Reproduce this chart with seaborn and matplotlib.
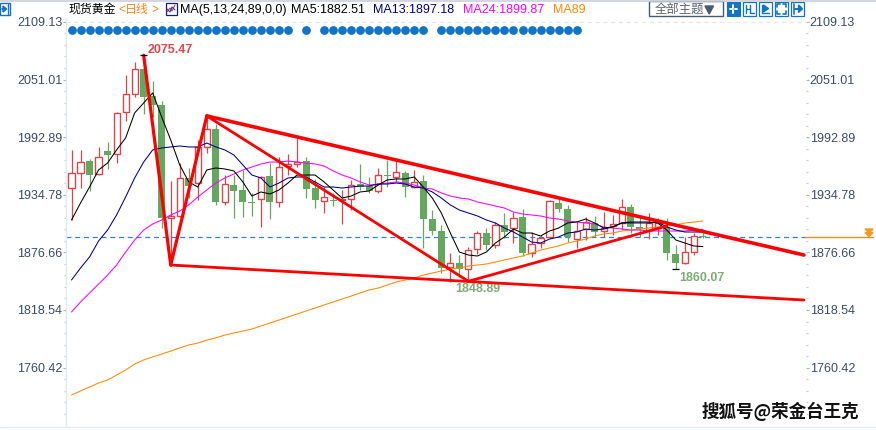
import pandas as pd
import seaborn as sns
import matplotlib
matplotlib.use('Agg')
import matplotlib.pyplot as plt
from matplotlib.patches import Rectangle, Polygon
from matplotlib.lines import Line2D

# candles
opens = [1941.6, 1956.7, 1968.8, 1955.7, 1978.9, 1975.9, 2018.3, 2036.5, 2061.7, 2034.4, 2025.4, 1911.3,
         1913.4, 1951.7, 1946.6, 1983.0, 2001.1, 1927.5, 1944.6, 1939.6, 1927.5, 1930.5, 1953.7, 1927.5,
         1963.8, 1965.8, 1968.8, 1941.6, 1928.5, 1929.5, 1929.5, 1930.5, 1945.6, 1943.6, 1938.6, 1954.7,
         1952.7, 1956.7, 1942.6, 1948.7, 1910.3, 1898.2, 1861.9, 1865.9, 1859.9, 1880.1, 1896.2, 1884.1,
         1904.3, 1901.2, 1912.3, 1876.0, 1886.1, 1892.2, 1926.5, 1920.4, 1890.1, 1900.2, 1906.3, 1898.2,
         1903.3, 1906.3, 1922.4, 1902.3, 1899.2, 1901.2, 1902.3, 1875.0, 1865.9, 1877.0, 1893.2]
closes = [1956.7, 1967.8, 1954.7, 1972.9, 1974.9, 2017.3, 2036.5, 2061.7, 2033.4, 2025.4, 1911.3, 1913.4,
          1951.7, 1943.6, 1983.0, 2001.1, 1927.5, 1945.6, 1938.6, 1927.5, 1926.5, 1952.7, 1927.5, 1962.8,
          1965.8, 1967.8, 1940.6, 1929.5, 1932.5, 1928.5, 1930.5, 1944.6, 1942.6, 1938.6, 1954.7, 1953.7,
          1957.7, 1942.6, 1947.7, 1910.3, 1898.2, 1860.9, 1865.9, 1859.9, 1879.0, 1896.2, 1884.1, 1904.3,
          1897.2, 1911.3, 1876.0, 1885.1, 1891.2, 1928.5, 1920.4, 1892.2, 1898.2, 1907.3, 1897.2, 1901.2,
          1905.3, 1922.4, 1902.3, 1900.2, 1906.3, 1906.3, 1876.0, 1865.9, 1877.0, 1893.2, 1892.2]
highs = [1980.0, 1980.0, 1970.9, 1983.0, 1988.0, 2018.3, 2055.6, 2068.7, 2075.47, 2049.6, 2029.4, 1948.7,
         1966.8, 1961.8, 1990.0, 2013.2, 2006.2, 1954.7, 1954.7, 1959.8, 1936.6, 1953.7, 1966.8, 1972.9,
         1975.9, 1992.0, 1972.9, 1950.7, 1942.6, 1936.6, 1939.6, 1949.7, 1965.8, 1952.7, 1961.8, 1969.9,
         1971.9, 1958.8, 1959.8, 1954.7, 1919.4, 1904.3, 1876.0, 1874.0, 1882.1, 1898.2, 1901.2, 1907.3,
         1916.4, 1917.4, 1920.4, 1897.2, 1894.2, 1929.5, 1931.5, 1924.5, 1907.3, 1912.3, 1913.4, 1917.4,
         1914.4, 1930.5, 1925.5, 1912.3, 1916.4, 1911.3, 1911.3, 1884.1, 1892.2, 1896.2, 1896.2]
lows = [1909.3, 1941.6, 1938.6, 1954.7, 1960.8, 1966.8, 2009.2, 2033.4, 2016.3, 2013.2, 1901.2, 1863.9,
        1912.3, 1931.5, 1929.5, 1976.9, 1924.5, 1924.5, 1911.3, 1912.3, 1913.4, 1902.3, 1910.3, 1922.4,
        1954.7, 1962.8, 1931.5, 1921.4, 1916.4, 1923.4, 1905.3, 1919.4, 1939.6, 1936.6, 1936.6, 1942.6,
        1947.7, 1932.5, 1941.6, 1881.1, 1894.2, 1855.8, 1846.8, 1851.8, 1848.89, 1875.0, 1879.0, 1881.1,
        1891.2, 1886.1, 1873.0, 1872.0, 1881.1, 1891.2, 1917.4, 1887.1, 1881.1, 1889.1, 1892.2, 1892.2,
        1894.2, 1899.2, 1896.2, 1892.2, 1890.1, 1894.2, 1869.0, 1860.07, 1864.9, 1874.0, 1891.2]

# moving averages
ma5 = [1909.3, 1926.5, 1942.6, 1959.8, 1966.8, 1980.0, 1992.1, 2017.3, 2027.4, 2037.5, 2013.2, 1990.0,
       1964.8, 1947.7, 1942.6, 1959.8, 1961.8, 1960.8, 1958.8, 1947.7, 1933.5, 1937.6, 1935.6, 1939.6,
       1946.6, 1954.7, 1954.7, 1954.7, 1947.7, 1939.6, 1931.5, 1933.5, 1937.6, 1938.6, 1944.6, 1949.7,
       1950.7, 1950.7, 1952.7, 1942.6, 1931.5, 1916.4, 1896.2, 1877.0, 1874.0, 1873.0, 1877.0, 1886.1,
       1892.2, 1900.2, 1896.2, 1896.2, 1893.2, 1898.2, 1901.2, 1906.3, 1907.3, 1910.3, 1906.3, 1901.2,
       1902.3, 1906.3, 1907.3, 1907.3, 1907.3, 1906.3, 1899.2, 1889.1, 1886.1, 1883.1, 1882.51]
ma13 = [1848.8, 1860.9, 1872.0, 1888.1, 1899.2, 1914.4, 1932.5, 1951.7, 1967.8, 1980.0, 1982.0, 1983.0,
        1984.0, 1983.0, 1983.0, 1987.0, 1983.0, 1980.0, 1974.9, 1964.8, 1954.7, 1951.7, 1942.6, 1946.6,
        1951.7, 1952.7, 1952.7, 1947.7, 1942.6, 1942.6, 1941.6, 1942.6, 1943.6, 1943.6, 1945.6, 1945.6,
        1946.6, 1945.6, 1942.6, 1941.6, 1937.6, 1931.5, 1924.5, 1919.4, 1916.4, 1913.4, 1909.3, 1906.3,
        1901.2, 1897.2, 1892.2, 1887.1, 1886.1, 1890.1, 1892.2, 1896.2, 1897.2, 1900.2, 1899.2, 1900.2,
        1902.3, 1906.3, 1906.3, 1906.3, 1906.3, 1907.3, 1902.3, 1899.2, 1897.2, 1897.2, 1897.18]
ma24 = [1816.5, 1826.6, 1835.7, 1844.7, 1853.8, 1863.9, 1877.0, 1889.1, 1899.2, 1905.3, 1909.3, 1914.4,
        1918.4, 1924.5, 1932.5, 1939.6, 1946.6, 1951.7, 1955.7, 1959.8, 1962.8, 1965.8, 1967.8, 1967.8,
        1968.8, 1967.8, 1966.8, 1965.8, 1963.8, 1958.8, 1954.7, 1951.7, 1947.7, 1944.6, 1945.6, 1946.6,
        1947.7, 1946.6, 1944.6, 1941.6, 1940.6, 1936.6, 1933.5, 1931.5, 1930.5, 1927.5, 1925.5, 1923.4,
        1921.4, 1917.4, 1915.4, 1914.4, 1913.4, 1911.3, 1910.3, 1908.3, 1907.3, 1906.3, 1905.3, 1902.3,
        1901.2, 1900.2, 1899.2, 1899.2, 1898.2, 1898.2, 1898.2, 1898.2, 1898.2, 1899.2, 1899.87]
ma89 = [1732.7, 1736.8, 1740.8, 1744.9, 1747.9, 1752.9, 1758.0, 1764.0, 1768.1, 1771.1, 1774.1, 1777.1,
        1780.2, 1783.2, 1785.2, 1788.2, 1790.3, 1793.3, 1795.3, 1797.3, 1799.3, 1802.4, 1805.4, 1808.4,
        1811.4, 1814.5, 1817.5, 1820.5, 1823.6, 1826.6, 1829.6, 1832.6, 1835.7, 1838.7, 1840.7, 1843.7,
        1846.8, 1848.8, 1850.8, 1853.8, 1855.8, 1857.9, 1859.9, 1860.9, 1862.9, 1863.9, 1864.9, 1866.9,
        1869.0, 1871.0, 1873.0, 1876.0, 1879.0, 1881.1, 1883.1, 1886.1, 1888.1, 1890.1, 1893.2, 1895.2,
        1896.2, 1898.2, 1899.2, 1900.2, 1901.2, 1902.3, 1903.3, 1904.3, 1906.3, 1907.3, 1908.3]

# signal dots along the top
dot_idx = list(range(0, 25)) + [26] + list(range(28, 40)) + list(range(41, 57))
dot_level = 2101.0

# hand drawn trend lines: (x0, x1), (price0, price1), width
trend_lines = [
    ((8, 11), (2075.47, 1863.9), 2.3),
    ((11, 15), (1863.9, 2014.3), 2.3),
    ((11, 81.2), (1863.9, 1828.6), 2.0),
    ((15, 81.2), (2014.3, 1874.0), 2.6),
    ((15, 44), (2014.3, 1847.5), 2.0),
    ((44, 66), (1847.5, 1903.3), 2.0),
]

y_ticks = [2109.13, 2051.01, 1992.89, 1934.78, 1876.66, 1818.54, 1760.42]
y_minor = [2097.5, 2085.9, 2074.3, 2062.6, 2039.4, 2027.8, 2016.2, 2004.5, 1981.3, 1969.7, 1958.0, 1946.4,
           1923.2, 1911.6, 1899.9, 1888.3, 1865.0, 1853.4, 1841.8, 1830.2, 1806.9, 1795.3, 1783.7, 1772.1,
           1748.8, 1737.2, 1725.6, 1713.9]
last_price = 1892.2

RED = '#d8474a'
GREEN = '#64a85f'
AXIS_TEXT = '#3e4a66'
ICON = '#1274c4'

sns.set_theme(style='white')
plt.rcParams['font.family'] = ['Liberation Sans', 'Noto Sans CJK SC', 'DejaVu Sans']

df = pd.DataFrame({'idx': range(len(opens)), 'open': opens, 'close': closes, 'high': highs, 'low': lows,
                   'ma5': ma5, 'ma13': ma13, 'ma24': ma24, 'ma89': ma89})

fig = plt.figure(figsize=(8.76, 4.30), dpi=100)
ax = fig.add_axes([66 / 876, 4 / 430, 740 / 876, 408 / 430])
ax.set_facecolor('white')

up = df[df['close'] >= df['open']]
down = df[df['close'] < df['open']]

# candles, up days are hollow
ax.vlines(up['idx'], up['low'], up['high'], color=RED, lw=0.9, zorder=2)
ax.vlines(down['idx'], down['low'], down['high'], color=GREEN, lw=0.9, zorder=2)
ax.bar(up['idx'], up['close'] - up['open'], bottom=up['open'], width=0.68, facecolor='white',
       edgecolor=RED, linewidth=1.0, zorder=3)
ax.bar(down['idx'], down['open'] - down['close'], bottom=down['close'], width=0.78, color=GREEN,
       linewidth=0, zorder=3)

# moving averages
for col, colour in [('ma89', '#ff8a00'), ('ma24', '#ff00ff'), ('ma13', '#000080'), ('ma5', '#000000')]:
    sns.lineplot(data=df, x='idx', y=col, color=colour, lw=0.75, ax=ax, legend=False, zorder=4)

ax.axhline(last_price, color='#2a84e6', lw=0.9, dashes=(4, 3), zorder=1)
ax.axhline(y_ticks[0], color='#e6e6e6', lw=0.8, dashes=(4, 3), zorder=1)

for xs, ys, width in trend_lines:
    sns.lineplot(x=list(xs), y=list(ys), color='#ff0000', lw=width, ax=ax, legend=False, sort=False,
                 zorder=5, solid_capstyle='round')

sns.scatterplot(x=dot_idx, y=[dot_level] * len(dot_idx), color=ICON, s=40, marker='o', linewidth=0,
                ax=ax, legend=False, zorder=3)

# high / low crosses and their labels
ax.hlines(2075.47, 7.6, 8.4, color='black', lw=0.9, zorder=6)
ax.hlines(1860.07, 66.6, 67.4, color='black', lw=0.9, zorder=6)
ax.text(8.4, 2081.0, '2075.47', color='#e2474a', fontsize=9, fontweight='bold', va='center', ha='left')
ax.text(42.5, 1840.0, '1848.89', color='#7dac75', fontsize=9, fontweight='bold', va='center', ha='left')
ax.text(67.4, 1850.5, '1860.07', color='#7dac75', fontsize=9, fontweight='bold', va='center', ha='left')

ax.set_xlim(-0.61, 81.43)
ax.set_ylim(1701.5, 2113.1)
ax.set_xticks([])
ax.set_yticks(y_ticks)
ax.set_yticklabels([f'{v:.2f}' for v in y_ticks])
ax.set_yticks(y_minor, minor=True)
ax.tick_params(axis='y', which='major', left=True, right=True, labelleft=True, labelright=True,
               length=2.2, width=0.8, color='#aab2bd', labelsize=9, labelcolor=AXIS_TEXT, pad=0.5)
ax.tick_params(axis='y', which='minor', left=True, right=True, length=1.2, width=0.9, color='#cfcfcf')
ax.set_xlabel('')
ax.set_ylabel('')
for name in ['top', 'right', 'bottom']:
    ax.spines[name].set_visible(False)
ax.spines['left'].set_color('#dcecf4')
ax.spines['left'].set_linewidth(1.0)


# window chrome is placed in pixels of the screenshot
def px(x, y):
    return x / 876, 1 - y / 430


def label(x, text, colour, size=9, **kw):
    fig.text(*px(x, 10), text, color=colour, fontsize=size, va='center', ha='left', **kw)


def box(x0, y0, x1, y1, **kw):
    fig.add_artist(Rectangle(px(x0, y1), (x1 - x0) / 876, (y1 - y0) / 430, transform=fig.transFigure, **kw))


def seg(points, colour, lw=1.0):
    xs, ys = zip(*[px(*p) for p in points])
    fig.add_artist(Line2D(xs, ys, color=colour, lw=lw, transform=fig.transFigure))


seg([(0, 0.5), (876, 0.5)], '#ccd0da', 1.2)
seg([(0, 427), (876, 427)], '#e4ebf0', 1.0)

label(68, '现货黄金', 'black', 8.6)
label(118, '<', '#f58a1f', 8.6)
label(125, '日线', '#f58a1f', 8.6)
label(151, '>', '#f58a1f', 8.6)
label(180, 'MA(5,13,24,89,0,0)', 'black')
label(291, 'MA5:1882.51', 'black')
label(373, 'MA13:1897.18', '#000080')
label(463, 'MA24:1899.87', '#ff00ff')
label(553, 'MA89', '#ff8a00')

# MA settings icon
box(165.5, 3, 176.5, 14.5, facecolor='white', edgecolor='#14206e', lw=0.9)
seg([(167, 12), (170, 8), (172, 11), (175, 5)], '#e03030', 0.8)
seg([(167, 9), (170, 12), (172, 7), (175, 10)], '#2040c0', 0.8)

# collapse icon top left
box(0, 3.5, 10, 15, facecolor='white', edgecolor=ICON, lw=1.0)
seg([(1.5, 9), (6, 9)], ICON, 1.2)
fig.add_artist(Polygon([px(3, 6), px(3, 12), px(6.5, 9)], closed=True, color=ICON, transform=fig.transFigure))
seg([(8, 4), (8, 14)], ICON, 1.0)

# theme dropdown
box(648.5, 1.5, 722.5, 16, facecolor='white', edgecolor='#4a5a72', lw=1.0)
label(655, '全部主题', '#5a6475', 8.9)
fig.add_artist(Polygon([px(705, 6), px(713.5, 6), px(709.2, 14)], closed=True, color='#4a5a72',
                       transform=fig.transFigure))

# toolbar icons
box(726.5, 2, 740, 15.5, facecolor=ICON, edgecolor=ICON, lw=0.8)
seg([(733.2, 5), (733.2, 8)], 'white', 1.4)
seg([(733.2, 9.6), (733.2, 12.6)], 'white', 1.4)
seg([(729.5, 8.8), (732, 8.8)], 'white', 1.4)
seg([(734.5, 8.8), (737, 8.8)], 'white', 1.4)
for x0 in [742.5, 758.5, 774.5, 790.5]:
    box(x0, 2, x0 + 13, 15.5, facecolor='white', edgecolor=ICON, lw=0.9)
seg([(745.5, 5), (745.5, 13)], ICON, 1.0)
seg([(750, 4.5), (750, 13), (754, 13)], ICON, 1.0)
seg([(746, 9), (748.5, 9)], ICON, 1.0)
seg([(761.5, 5), (761.5, 13), (769, 13)], ICON, 1.0)
fig.add_artist(Polygon([px(763.5, 5), px(763.5, 12), px(768.5, 8.5)], closed=True, color=ICON,
                       transform=fig.transFigure))
for a, b, c in [((776.5, 7), (776.5, 4), (779.5, 4)), ((782.5, 4), (785.5, 4), (785.5, 7)),
                ((776.5, 10.5), (776.5, 13.5), (779.5, 13.5)), ((782.5, 13.5), (785.5, 13.5), (785.5, 10.5))]:
    seg([a, b, c], ICON, 1.2)
seg([(793.5, 4), (793.5, 13.5)], ICON, 1.2)
seg([(795, 8.8), (799, 8.8)], ICON, 1.4)
fig.add_artist(Polygon([px(798.5, 5), px(798.5, 12.5), px(802.5, 8.8)], closed=True, color=ICON,
                       transform=fig.transFigure))

# last price marker on the right axis
seg([(805, 237.3), (873, 237.3)], '#f58a1f', 1.0)
for y0 in [229, 232.5]:
    fig.add_artist(Polygon([px(865, y0), px(873, y0), px(869, y0 + 4)], closed=True, color='#f59a1f',
                           transform=fig.transFigure))

# watermark
wm = dict(fontsize=12.6, fontweight='bold', va='center', ha='left', family=['Noto Sans CJK SC', 'DejaVu Sans'])
fig.text(*px(702, 411), '搜狐号@荣金台王克', color='#111111', **wm)

fig.savefig('out.png', dpi=100)
